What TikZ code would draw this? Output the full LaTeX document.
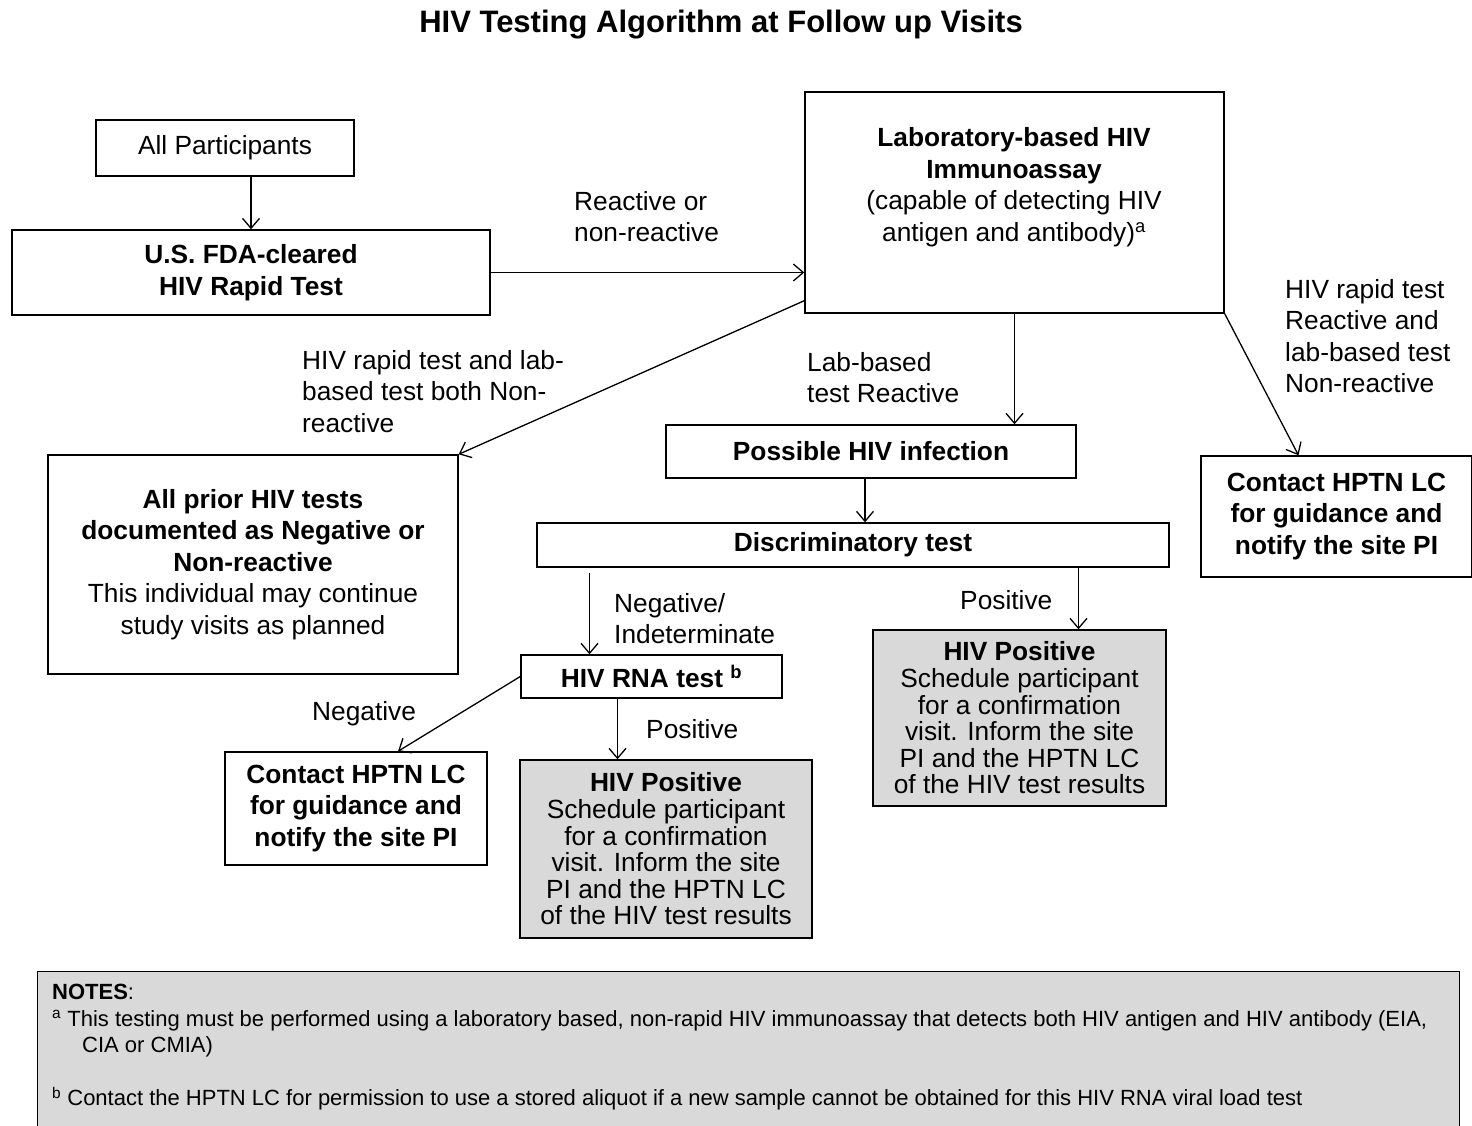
\documentclass[tikz,border=0pt]{standalone}
\usepackage{fontspec}
\setmainfont{Liberation Sans}
\usetikzlibrary{arrows.meta,positioning}
\definecolor{boxgray}{RGB}{217,217,217}

\begin{document}
\begin{tikzpicture}[
  x=1pt, y=-1pt,
  plainbox/.style={draw=black, line width=1.4pt, fill=white, align=center, inner sep=0pt, font=\fontsize{26.3}{31.5}\selectfont},
  testbox/.style={plainbox, font=\fontsize{26.3}{31.5}\selectfont\bfseries},
  posbox/.style={draw=black, line width=1.4pt, fill=boxgray, align=center, inner sep=0pt, font=\fontsize{26.3}{26.6}\selectfont},
  notebox/.style={draw=black, line width=1.4pt, fill=boxgray, inner sep=0pt},
  lbl/.style={anchor=north west, align=left, inner sep=0pt, font=\fontsize{26.3}{31.5}\selectfont},
  arrow/.style={-{Straight Barb[length=10pt, width=17pt]}, line width=1.3pt}
]
  \useasboundingbox (0,0) rectangle (1472,1126);

  \node[font=\fontsize{31}{36}\selectfont\bfseries] (title) at (721,25) {HIV Testing Algorithm at Follow up Visits};

  % first row
  \node[plainbox, minimum width=258pt, minimum height=56pt] (allp) at (225,148) {All Participants};
  \node[testbox, minimum width=478pt, minimum height=85pt] (fda) at (251,272.5) {U.S. FDA-cleared\\HIV Rapid Test};
  \node[plainbox, minimum width=419pt, minimum height=221pt] (lab) at (1014.5,202.5) {};
  \node[align=center, inner sep=0pt, font=\fontsize{26.3}{31.5}\selectfont] (labtext) at (1014,187)
    {\textbf{Laboratory-based HIV}\\\textbf{Immunoassay}\\(capable of detecting HIV\\antigen and antibody)\textsuperscript{a}};

  % second row
  \node[testbox, minimum width=410pt, minimum height=219pt] (prior) at (253,564.5)
    {All prior HIV tests\\documented as Negative or\\Non-reactive\\\mdseries This individual may continue\\\mdseries study visits as planned};
  \node[testbox, minimum width=410pt, minimum height=53pt] (poss) at (871,451.5) {Possible HIV infection};
  \node[testbox, minimum width=632pt, minimum height=44pt] (disc) at (853,545) {Discriminatory test};
  \node[testbox, minimum width=271pt, minimum height=121pt] (contactR) at (1336.5,516.5)
    {Contact HPTN LC\\for guidance and\\notify the site PI};

  % results
  \node[testbox, minimum width=261pt, minimum height=43pt] (rna) at (651.5,676.5) {HIV RNA test \textsuperscript{b}};
  \node[posbox, minimum width=293pt, minimum height=176pt] (posR) at (1019.5,718)
    {\textbf{HIV Positive}\\Schedule participant\\for a confirmation\\visit. Inform the site\\PI and the HPTN LC\\of the HIV test results};
  \node[testbox, minimum width=262pt, minimum height=113pt] (contactL) at (356,808.5)
    {Contact HPTN LC\\for guidance and\\notify the site PI};
  \node[posbox, minimum width=292pt, minimum height=178pt] (posL) at (666,849)
    {\textbf{HIV Positive}\\Schedule participant\\for a confirmation\\visit. Inform the site\\PI and the HPTN LC\\of the HIV test results};

  % connectors
  \draw[arrow] (allp.south -| fda.north) -- (fda.north);
  \draw[arrow] (fda.east) -- (fda.east -| lab.west);
  \draw[arrow] ([yshift=13pt]lab.south west) -- (prior.north east);
  \draw[arrow] (lab.south) -- (lab.south |- poss.north);
  \draw[arrow] (lab.south east) -- ([xshift=-38pt]contactR.north);
  \draw[arrow] ([xshift=-6pt]poss.south) -- ([xshift=-6pt]poss.south |- disc.north);
  \draw[arrow] ([xshift=-62pt, yshift=-5pt]rna.north |- disc.south) -- ([xshift=-62pt]rna.north);
  \draw[arrow] ([xshift=59pt]posR.north |- disc.south) -- ([xshift=59pt]posR.north);
  \draw[arrow] (rna.west) -- ([xshift=42pt]contactL.north);
  \draw[arrow] ([xshift=-34pt]rna.south) -- ([xshift=-34pt]rna.south |- posL.north);

  % connector labels
  \node[lbl] (reactlbl) at (574,191) {Reactive or\\non-reactive};
  \node[lbl] (bothlbl) at (302,350) {HIV rapid test and lab-\\based test both Non-\\reactive};
  \node[lbl] (labreactlbl) at (807,352) {Lab-based\\test Reactive};
  \node[lbl] (rapidlbl) at (1285,279) {HIV rapid test\\Reactive and\\lab-based test\\Non-reactive};
  \node[lbl] (indetlbl) at (614,593) {Negative/\\Indeterminate};
  \node[lbl] (posRlbl) at (960,590) {Positive};
  \node[lbl] (neglbl) at (312,701) {Negative};
  \node[lbl] (posLlbl) at (646,719) {Positive};

  % notes
  \node[notebox, anchor=north west, minimum width=1422pt, minimum height=160pt] (notes) at (37,971) {};
  \node[anchor=north west, align=left, inner sep=0pt, font=\fontsize{22}{26.5}\selectfont] (notetext) at (52,984)
    {\textbf{NOTES}:\\
     \textsuperscript{a} This testing must be performed using a laboratory based, non-rapid HIV immunoassay that detects both HIV antigen and HIV antibody (EIA,\\
     \hspace*{30pt}CIA or CMIA)\\[26.5pt]
     \textsuperscript{b} Contact the HPTN LC for permission to use a stored aliquot if a new sample cannot be obtained for this HIV RNA viral load test};
\end{tikzpicture}
\end{document}
